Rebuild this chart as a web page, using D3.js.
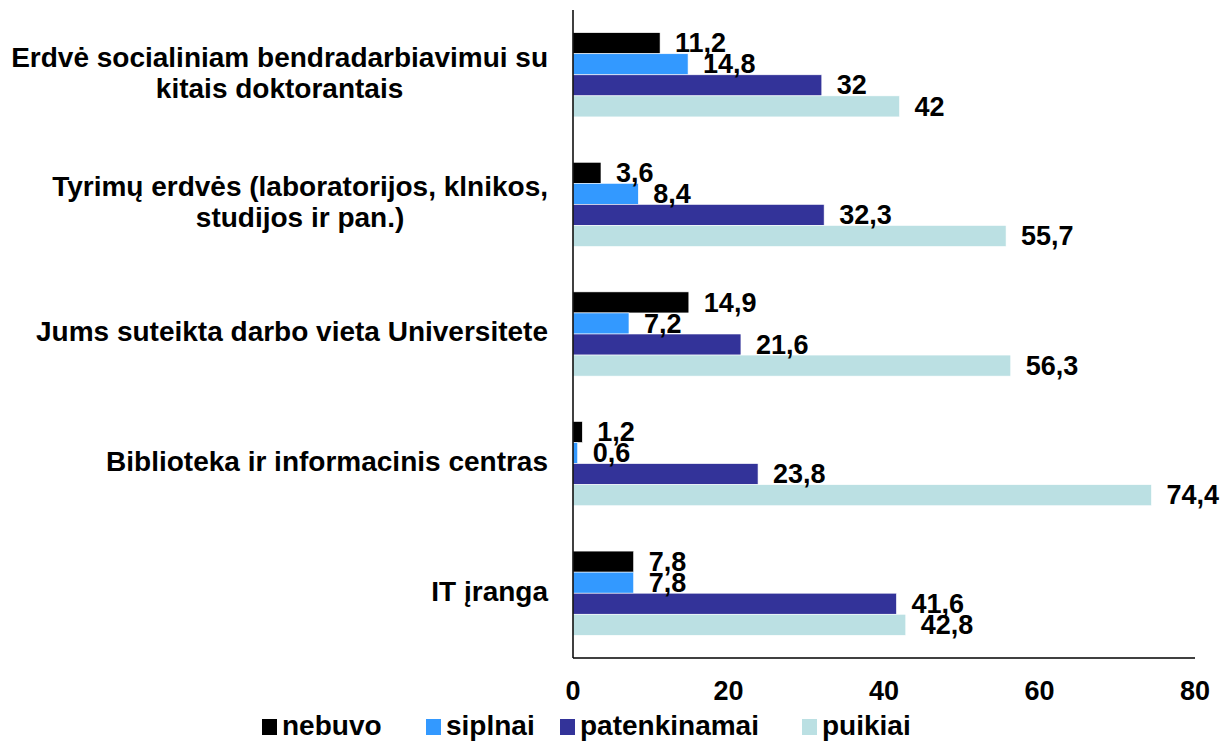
<!DOCTYPE html>
<html>
<head>
<meta charset="utf-8">
<script src="https://cdn.jsdelivr.net/npm/d3@7"></script>
<style>
  body { margin: 0; background: #fff; }
  text { font-family: "Liberation Sans", Arial, sans-serif; font-weight: bold; fill: #000; }
</style>
</head>
<body>
<svg id="svg"></svg>
<script>
const WIDTH = 1222, HEIGHT = 743;

// categories top to bottom, each split into lines
const categories = [
    ["Erdvė socialiniam bendradarbiavimui su", "kitais doktorantais"],
    ["Tyrimų erdvės (laboratorijos, klnikos,", "studijos ir pan.)"],
    ["Jums suteikta darbo vieta Universitete"],
    ["Biblioteka ir informacinis centras"],
    ["IT įranga"]
];
const seriesNames = ["nebuvo", "siplnai", "patenkinamai", "puikiai"];
const seriesColors = ["#000000", "#3399FF", "#333399", "#BBE0E3"];
const nebuvo = [11.2, 3.6, 14.9, 1.2, 7.8];
const siplnai = [14.8, 8.4, 7.2, 0.6, 7.8];
const patenkinamai = [32, 32.3, 21.6, 23.8, 41.6];
const puikiai = [42, 55.7, 56.3, 74.4, 42.8];
const xTicks = [0, 20, 40, 60, 80];

const series = [nebuvo, siplnai, patenkinamai, puikiai];

const svg = d3.select('#svg').attr('width', WIDTH).attr('height', HEIGHT);

const plotLeft = 573, plotRight = 1195, plotTop = 10, plotBottom = 658;

const x = d3.scaleLinear().domain([0, 80]).range([plotLeft, plotRight]);
const y = d3.scaleBand().domain(d3.range(categories.length)).range([plotTop, plotBottom])
    .paddingInner(0.35).paddingOuter(0.175);
const ySub = d3.scaleBand().domain(d3.range(seriesNames.length)).range([0, y.bandwidth()]);

// bars
const groups = svg.append('g').selectAll('g').data(categories).join('g')
    .attr('transform', (d, i) => 'translate(0,' + y(i) + ')');

groups.each(function(c, ci) {
    let g = d3.select(this);
    series.forEach((s, si) => {
        g.append('rect')
            .attr('x', x(0))
            .attr('y', ySub(si))
            .attr('width', x(s[ci]) - x(0))
            .attr('height', ySub.bandwidth())
            .attr('fill', seriesColors[si])
            .attr('stroke', '#fff')
            .attr('stroke-width', 0.6);
    });
});
groups.each(function(c, ci) {
    let g = d3.select(this);
    series.forEach((s, si) => {
        g.append('text')
            .attr('x', x(s[ci]) + 15)
            .attr('y', ySub(si) + ySub.bandwidth() / 2 + 2)
            .attr('dominant-baseline', 'middle')
            .style('font-size', '27px')
            .text(String(s[ci]).replace('.', ','));
    });
});

// category labels: block right aligned, lines centered among themselves
const labelRight = 548, lineH = 31;
categories.forEach((lines, ci) => {
    let g = svg.append('g');
    let texts = lines.map(l => g.append('text').style('font-size', '28px').text(l));
    let maxW = d3.max(texts, t => t.node().getComputedTextLength());
    let cy = y(ci) + y.bandwidth() / 2;
    texts.forEach((t, li) => {
        t.attr('x', labelRight - maxW / 2)
         .attr('y', cy + (li - (lines.length - 1) / 2) * lineH)
         .attr('text-anchor', 'middle')
         .attr('dominant-baseline', 'middle');
    });
});

// axes
svg.append('line').attr('x1', plotLeft).attr('x2', plotLeft).attr('y1', plotTop).attr('y2', plotBottom)
    .attr('stroke', '#000').attr('stroke-width', 1.5);
svg.append('line').attr('x1', plotLeft).attr('x2', plotRight).attr('y1', plotBottom).attr('y2', plotBottom)
    .attr('stroke', '#000').attr('stroke-width', 1.5);

svg.append('g').selectAll('text').data(xTicks).join('text')
    .attr('x', d => x(d))
    .attr('y', 693)
    .attr('text-anchor', 'middle')
    .attr('dominant-baseline', 'middle')
    .style('font-size', '27px')
    .text(d => d);

// legend
const legendX = [262, 426, 560, 802];
const legend = svg.append('g').selectAll('g').data(seriesNames).join('g')
    .attr('transform', (d, i) => 'translate(' + legendX[i] + ',727)');
legend.append('rect').attr('x', 0).attr('y', -8).attr('width', 15).attr('height', 16)
    .attr('fill', (d, i) => seriesColors[i]);
legend.append('text').attr('x', 20).attr('y', 1)
    .attr('dominant-baseline', 'middle')
    .style('font-size', '28px')
    .text(d => d);
</script>
</body>
</html>
